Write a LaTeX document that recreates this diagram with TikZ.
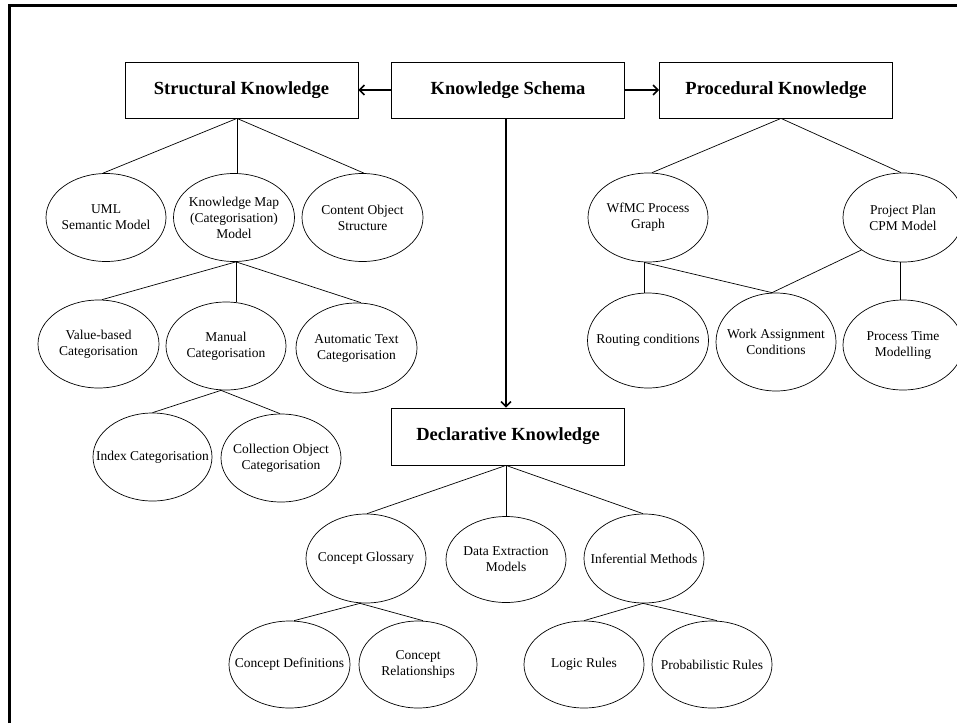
\documentclass[tikz,border=0pt]{standalone}
\usepackage{fontspec}
\setmainfont{Liberation Serif}
\usetikzlibrary{shapes.geometric,arrows.meta}
\begin{document}
\begin{tikzpicture}[x=1pt,y=-1pt,
  hdr/.style={draw,line width=0.8pt,minimum width=233pt,minimum height=56pt,inner sep=0pt,font=\fontsize{18.5}{22}\selectfont\bfseries},
  ell/.style={draw,ellipse,line width=0.7pt,inner sep=0pt,minimum width=120pt,minimum height=88pt},
  elltext/.style={align=center,inner sep=0pt,font=\fontsize{13.5}{16}\selectfont},
  link/.style={line width=0.7pt},
  arr/.style={line width=1.5pt,-{Straight Barb[length=5pt,width=10pt,line width=1.5pt]}}
]
\useasboundingbox (0,0) rectangle (957,723);
% frame
\draw[line width=3pt] (9,723) -- (9,5.5) -- (957,5.5);

% headers
\node[hdr] (SK) at (241.5,90) {Structural Knowledge};
\node[hdr] (KS) at (508,90) {Knowledge Schema};
\node[hdr] (PK) at (776,90) {Procedural Knowledge};
\node[hdr,minimum height=57pt] (DK) at (508,436.5) {Declarative Knowledge};

% structural
\node[ell,label={[elltext]center:{UML\\Semantic Model}}] (UML) at (106,217.5) {};
\node[ell,minimum width=121pt,label={[elltext]center:{Knowledge Map\\(Categorisation)\\Model}}] (KM) at (234,217.5) {};
\node[ell,minimum width=121pt,label={[elltext]center:{Content Object\\Structure}}] (COS) at (362.5,217.5) {};
\node[ell,minimum width=121pt,label={[elltext]center:{Value-based\\Categorisation}}] (VB) at (98.5,344) {};
\node[ell,label={[elltext]center:{Manual\\Categorisation}}] (MC) at (226,346) {};
\node[ell,minimum width=121pt,minimum height=90pt,label={[elltext]center:{Automatic Text\\Categorisation}}] (ATC) at (356.5,348) {};
\node[ell,minimum width=119pt,label={[elltext]center:{Index Categorisation}}] (IC) at (152.5,457) {};
\node[ell,label={[elltext]center:{Collection Object\\Categorisation}}] (COC) at (281,458) {};

% procedural
\node[ell,minimum height=89pt,label={[elltext]center:{WfMC Process\\Graph}}] (WF) at (648,217.5) {};
\node[ell,minimum height=89pt,label={[elltext]center:{Project Plan\\CPM Model}}] (PP) at (903,217.5) {};
\node[ell,minimum width=121pt,minimum height=95pt,label={[elltext]center:{Routing conditions}}] (RC) at (648,340.5) {};
\node[ell,minimum height=98pt,label={[elltext]center:{Work Assignment\\Conditions}}] (WA) at (776,342) {};
\node[ell,minimum height=90pt,label={[elltext]center:{Process Time\\Modelling}}] (PT) at (903,345) {};

% declarative
\node[ell,minimum height=89pt,label={[elltext]center:{Concept Glossary}}] (CG) at (366,558.5) {};
\node[ell,minimum height=86pt,label={[elltext]center:{Data Extraction\\Models}}] (DEM) at (506,559.5) {};
\node[ell,minimum height=89pt,label={[elltext]center:{Inferential Methods}}] (IM) at (644,558.5) {};
\node[ell,minimum width=121pt,minimum height=87pt,label={[elltext]center:{Concept Definitions}}] (CD) at (289.5,664.5) {};
\node[ell,minimum width=118pt,minimum height=87pt,label={[elltext]center:{Concept\\Relationships}}] (CR) at (418,664.5) {};
\node[ell,minimum height=87pt,label={[elltext]center:{Logic Rules}}] (LR) at (584,664.5) {};
\node[ell,minimum height=87pt,label={[elltext]center:{Probabilistic Rules}}] (PR) at (712,664.5) {};

% arrows
\draw[arr] (KS.west) -- (SK.east);
\draw[arr] (KS.east) -- (PK.west);
\draw[arr] ([xshift=-2pt]KS.south) -- ([xshift=-2pt]DK.north);

% structural links
\draw[link] ([xshift=-4.5pt]SK.south) -- ([xshift=-3pt]UML.north);
\draw[link] ([xshift=-4.5pt]SK.south) -- ([xshift=3pt]KM.north);
\draw[link] ([xshift=-4.5pt]SK.south) -- ([xshift=1.5pt]COS.north);
\draw[link] ([xshift=2pt]KM.south) -- ([xshift=3.5pt]VB.north);
\draw[link] ([xshift=2pt]KM.south) -- ([xshift=10pt]MC.north);
\draw[link] ([xshift=2pt]KM.south) -- ([xshift=4.5pt]ATC.north);
\draw[link] ([xshift=-5pt]MC.south) -- (IC.north);
\draw[link] ([xshift=-5pt]MC.south) -- ([xshift=-1pt]COC.north);

% procedural links
\draw[link] ([xshift=5pt]PK.south) -- ([xshift=4pt]WF.north);
\draw[link] ([xshift=5pt]PK.south) -- ([xshift=-2pt]PP.north);
\draw[link] ([xshift=-4pt]WF.south) -- ([xshift=-4pt]RC.north);
\draw[link] ([xshift=-4pt]WF.south) -- ([xshift=-4pt]WA.north);
\draw[link] (PP.218) -- ([xshift=-4pt]WA.north);
\draw[link] ([xshift=-3pt]PP.south) -- ([xshift=-3pt]PT.north);

% declarative links
\draw[link] ([xshift=-2pt]DK.south) -- ([xshift=1pt]CG.north);
\draw[link] ([xshift=-2pt]DK.south) -- (DEM.north);
\draw[link] ([xshift=-2pt]DK.south) -- ([xshift=-1pt]IM.north);
\draw[link] ([xshift=-6pt]CG.south) -- ([xshift=4.5pt]CD.north);
\draw[link] ([xshift=-6pt]CG.south) -- ([xshift=5pt]CR.north);
\draw[link] ([xshift=-1pt]IM.south) -- (LR.north);
\draw[link] ([xshift=-1pt]IM.south) -- ([xshift=5pt]PR.north);
\end{tikzpicture}
\end{document}
